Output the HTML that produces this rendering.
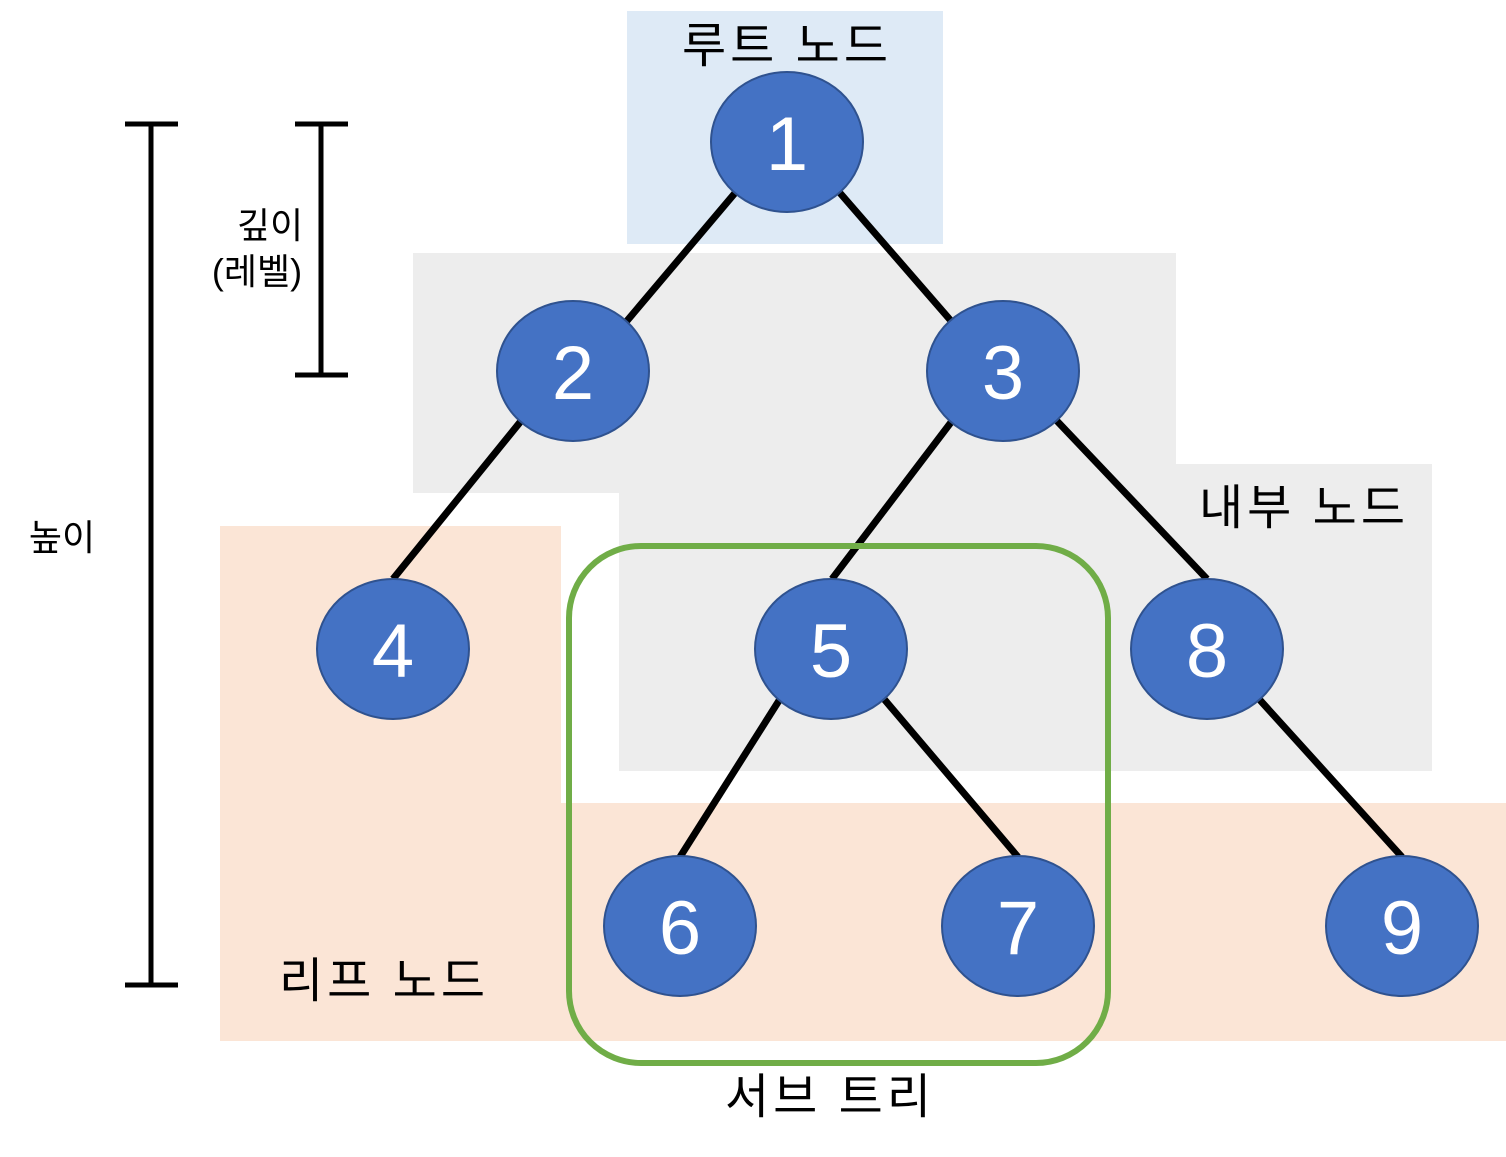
<!DOCTYPE html>
<html><head><meta charset="utf-8"><style>
html,body{margin:0;padding:0;background:#fff;}
svg{display:block;}
text{font-family:"Liberation Sans","Noto Sans CJK KR",sans-serif;}
</style></head><body>
<svg width="1506" height="1157" viewBox="0 0 1506 1157" xmlns="http://www.w3.org/2000/svg">
<rect x="627" y="11" width="316" height="233" fill="#DEEAF6"/>
<polygon points="413,253 1176,253 1176,464 1432,464 1432,771 619,771 619,493 413,493" fill="#EDEDED"/>
<polygon points="220,526 561,526 561,803 1506,803 1506,1041 220,1041" fill="#FBE5D6"/>
<g stroke="#000" stroke-width="7">
<line x1="735" y1="193" x2="626" y2="322"/>
<line x1="840" y1="193" x2="952" y2="322"/>
<line x1="521" y1="421" x2="393" y2="579"/>
<line x1="952" y1="421" x2="832" y2="579"/>
<line x1="1057" y1="421" x2="1207" y2="579"/>
<line x1="780" y1="699" x2="680" y2="857"/>
<line x1="884" y1="699" x2="1018" y2="857"/>
<line x1="1259" y1="699" x2="1402" y2="857"/>
</g>
<rect x="569" y="546" width="539" height="517" rx="72" fill="none" stroke="#70AD47" stroke-width="6"/>
<g fill="#4472C4" stroke="#2F528F" stroke-width="2">
<ellipse cx="787" cy="142" rx="76" ry="70"/>
<ellipse cx="573" cy="371" rx="76" ry="70"/>
<ellipse cx="1003" cy="371" rx="76" ry="70"/>
<ellipse cx="393" cy="649" rx="76" ry="70"/>
<ellipse cx="831" cy="649" rx="76" ry="70"/>
<ellipse cx="1207" cy="649" rx="76" ry="70"/>
<ellipse cx="680" cy="926" rx="76" ry="70"/>
<ellipse cx="1018" cy="926" rx="76" ry="70"/>
<ellipse cx="1402" cy="926" rx="76" ry="70"/>
</g>
<g fill="#fff" font-size="76" text-anchor="middle">
<text x="787" y="170">1</text>
<text x="573" y="399">2</text>
<text x="1003" y="399">3</text>
<text x="393" y="677">4</text>
<text x="831" y="677">5</text>
<text x="1207" y="677">8</text>
<text x="680" y="954">6</text>
<text x="1018" y="954">7</text>
<text x="1402" y="954">9</text>
</g>
<g stroke="#000" stroke-width="5">
<line x1="151" y1="123" x2="151" y2="986"/>
<line x1="125" y1="124" x2="178" y2="124"/>
<line x1="125" y1="985" x2="178" y2="985"/>
<line x1="321" y1="123" x2="321" y2="376"/>
<line x1="295" y1="124" x2="348" y2="124"/>
<line x1="295" y1="375" x2="348" y2="375"/>
</g>
<g fill="#000">
<text x="787" y="62" font-size="48" text-anchor="middle" letter-spacing="4">루트 노드</text>
<text x="1304" y="524" font-size="48" text-anchor="middle" letter-spacing="4">내부 노드</text>
<text x="384" y="997" font-size="48" text-anchor="middle" letter-spacing="4">리프 노드</text>
<text x="830" y="1113" font-size="48" text-anchor="middle" letter-spacing="4">서브 트리</text>
<text x="270" y="238" font-size="36" text-anchor="middle">깊이</text>
<text x="257" y="284" font-size="36" text-anchor="middle">(레벨)</text>
<text x="62" y="550" font-size="36" text-anchor="middle">높이</text>
</g>
</svg>
</body></html>
